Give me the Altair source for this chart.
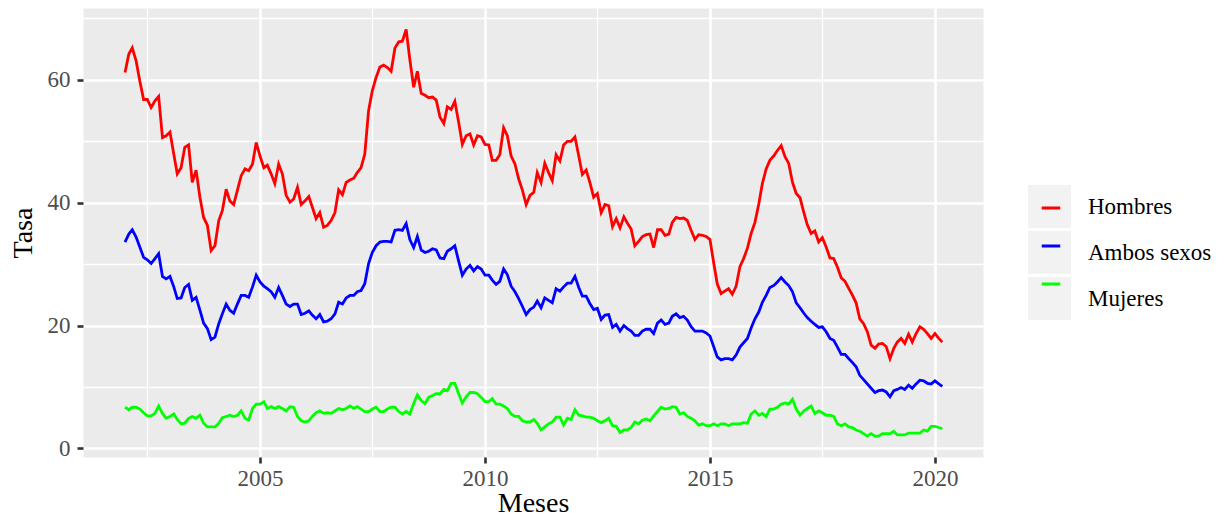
import altair as alt
import pandas as pd

# Tasas mensuales, enero 2002 - marzo 2020
hombres = [
    61.2, 64.2, 65.2, 63.1, 59.8, 56.8, 56.8, 55.5, 56.6, 57.3, 50.6, 50.9,
    51.5, 47.9, 44.7, 45.7, 49.0, 49.4, 43.3, 45.3, 40.9, 37.6, 36.3, 32.2,
    33.0, 37.1, 38.7, 42.2, 40.3, 39.7, 42.0, 44.4, 45.5, 45.2, 46.3, 49.8,
    47.6, 45.7, 46.1, 44.7, 43.1, 46.3, 44.7, 41.2, 40.1, 40.6, 42.5, 39.7,
    40.3, 41.0, 39.3, 37.4, 38.4, 36.0, 36.3, 37.1, 38.4, 42.1, 41.3, 43.3,
    43.7, 44.0, 44.9, 45.7, 47.9, 55.0, 58.2, 60.4, 62.1, 62.4, 62.0, 61.4,
    65.2, 66.2, 66.3, 68.2, 63.3, 58.8, 61.4, 57.8, 57.5, 57.1, 57.2, 56.7,
    53.9, 52.9, 55.6, 55.2, 56.5, 53.1, 49.5, 50.9, 51.2, 49.4, 50.9, 50.7,
    49.5, 49.4, 46.9, 46.9, 47.8, 52.2, 50.9, 47.6, 46.3, 43.9, 42.0, 39.7,
    41.2, 41.7, 44.9, 43.3, 46.4, 44.9, 43.6, 47.8, 46.8, 49.4, 50.0, 50.0,
    50.7, 47.6, 44.6, 45.3, 43.3, 40.9, 41.5, 38.4, 39.7, 39.5, 36.1, 37.4,
    35.9, 37.7, 36.7, 35.7, 33.0, 33.7, 34.5, 34.8, 34.9, 32.7, 35.6, 35.6,
    34.7, 34.9, 36.8, 37.6, 37.4, 37.5, 37.1, 35.5, 34.0, 34.8, 34.7, 34.5,
    34.0, 30.1, 26.8, 25.2, 25.6, 26.0, 25.1, 26.4, 29.6, 30.9, 32.6, 35.0,
    36.8, 39.8, 43.1, 45.5, 46.9, 47.6, 48.5, 49.3, 47.5, 46.4, 43.3, 41.5,
    40.8, 38.4, 36.4, 35.0, 35.4, 33.6, 34.3, 32.8, 31.0, 30.9, 29.5, 27.8,
    27.2, 26.0, 25.0, 23.7, 21.1, 20.3, 19.0, 16.8, 16.3, 17.0, 17.1, 16.6,
    14.6, 16.3, 17.3, 17.9, 17.1, 18.6, 17.3, 18.7, 19.8, 19.4, 18.7, 17.9,
    18.7, 17.9, 17.3,
]
ambos = [
    33.6, 34.9, 35.6, 34.4, 32.8, 31.1, 30.7, 30.1, 30.9, 31.7, 28.0, 27.6,
    28.0, 26.3, 24.4, 24.5, 26.2, 26.7, 24.1, 24.6, 22.5, 20.4, 19.5, 17.7,
    18.1, 20.3, 21.9, 23.5, 22.5, 22.0, 23.5, 24.9, 24.9, 24.6, 26.3, 28.2,
    27.1, 26.4, 26.0, 25.5, 24.6, 26.2, 24.9, 23.5, 23.1, 23.5, 23.5, 21.8,
    22.0, 22.4, 21.7, 21.1, 21.8, 20.6, 20.7, 21.1, 21.9, 23.8, 23.5, 24.5,
    24.9, 24.9, 25.5, 25.7, 26.8, 30.1, 31.9, 33.0, 33.6, 33.7, 33.7, 33.6,
    35.5, 35.6, 35.5, 36.6, 34.0, 32.7, 34.5, 32.3, 31.9, 32.1, 32.5, 32.3,
    31.0, 30.9, 32.1, 32.5, 33.0, 30.5, 28.2, 29.2, 29.8, 28.9, 29.6, 29.2,
    28.2, 28.2, 27.4, 26.7, 27.2, 29.2, 28.3, 26.4, 25.5, 24.4, 23.1, 21.8,
    22.6, 23.0, 24.0, 22.9, 24.5, 24.1, 23.7, 26.0, 25.6, 26.3, 26.9, 26.9,
    28.0, 26.2, 24.8, 24.8, 23.6, 22.6, 22.8, 21.0, 21.7, 21.8, 19.7, 20.2,
    19.1, 20.0, 19.5, 19.1, 18.4, 18.4, 19.1, 19.4, 19.4, 18.7, 20.4, 20.9,
    20.2, 20.4, 21.5, 21.9, 21.3, 21.5, 20.9, 19.8, 19.1, 19.1, 19.1, 18.8,
    18.3, 16.5, 14.9, 14.4, 14.6, 14.6, 14.4, 15.2, 16.5, 17.2, 17.9, 19.6,
    21.1, 22.2, 23.8, 24.9, 26.2, 26.5, 27.1, 27.8, 27.1, 26.5, 25.5, 23.7,
    22.9, 22.0, 21.3, 20.7, 20.2, 19.7, 19.8, 19.0, 17.9, 17.6, 16.5, 15.3,
    15.3, 14.6, 14.0, 13.3, 11.9, 11.2, 10.5, 9.8, 9.1, 9.4, 9.5, 9.2,
    8.4, 9.4, 9.6, 9.9, 9.6, 10.3, 9.8, 10.5, 11.1, 11.0, 10.6, 10.5,
    11.0, 10.5, 10.1,
]
mujeres = [
    6.7, 6.3, 6.7, 6.7, 6.4, 5.8, 5.3, 5.3, 5.7, 6.9, 5.7, 4.9,
    5.2, 5.6, 4.7, 4.0, 4.1, 4.9, 5.2, 4.9, 5.4, 4.1, 3.5, 3.5,
    3.5, 4.1, 5.0, 5.2, 5.4, 5.2, 5.4, 6.1, 4.9, 4.6, 6.5, 7.2,
    7.2, 7.6, 6.5, 6.8, 6.5, 6.8, 6.5, 6.1, 6.8, 6.7, 5.2, 4.5,
    4.3, 4.5, 5.2, 5.8, 6.1, 5.7, 5.8, 5.7, 6.1, 6.5, 6.3, 6.5,
    6.9, 6.5, 6.8, 6.4, 6.0, 6.0, 6.4, 6.7, 6.0, 6.0, 6.4, 6.7,
    6.7, 6.0, 5.6, 6.0, 5.6, 7.3, 8.7, 7.8, 7.3, 8.3, 8.6, 8.9,
    8.9, 9.6, 9.4, 10.6, 10.6, 8.9, 7.4, 8.4, 9.1, 9.1, 8.9, 8.3,
    7.6, 7.6, 8.1, 7.2, 7.2, 6.9, 6.5, 5.6, 5.2, 5.2, 4.5, 4.3,
    4.3, 4.7, 4.1, 3.0, 3.5, 4.0, 4.3, 5.1, 5.1, 3.8, 4.9, 4.7,
    6.3, 5.4, 5.3, 5.1, 5.1, 4.9, 4.5, 4.2, 4.5, 4.9, 3.7, 3.6,
    2.6, 3.0, 3.0, 3.4, 4.3, 4.0, 4.6, 4.8, 4.5, 5.3, 6.0, 6.7,
    6.4, 6.5, 6.8, 6.7, 5.6, 5.8, 5.2, 4.9, 4.5, 3.8, 4.0, 3.7,
    3.7, 4.0, 3.7, 4.0, 4.0, 3.7, 4.0, 4.0, 4.0, 4.2, 4.1, 5.6,
    6.1, 5.4, 5.7, 5.2, 6.4, 6.4, 6.7, 7.2, 7.4, 7.2, 8.0, 6.4,
    5.4, 6.1, 6.5, 6.9, 5.7, 6.1, 5.8, 5.4, 5.4, 5.2, 4.0, 3.7,
    4.0, 3.5, 3.4, 3.0, 2.8, 2.4, 2.0, 2.4, 2.0, 2.0, 2.4, 2.4,
    2.4, 2.8, 2.2, 2.2, 2.2, 2.5, 2.5, 2.5, 2.5, 3.0, 2.8, 3.6,
    3.6, 3.4, 3.2,
]

series = ["Hombres", "Ambos sexos", "Mujeres"]
colores = ["#FF0000", "#0000FF", "#00FF00"]
anios_mayores = [2005, 2010, 2015, 2020]
valores_y = [0, 10, 20, 30, 40, 50, 60, 70]

fechas = pd.date_range("2002-01-01", periods=len(hombres), freq="MS")
filas = []
for nombre, vals in zip(series, [hombres, ambos, mujeres]):
    for f, v in zip(fechas, vals):
        filas.append({"fecha": f, "serie": nombre, "serie_fondo": nombre, "tasa": v})
df = pd.DataFrame(filas)

FONT = "Liberation Serif"

x_ticks = []
for a in anios_mayores:
    x_ticks.append(alt.DateTime(year=a - 3, month=7, date=1))
    x_ticks.append(alt.DateTime(year=a, month=1, date=1))
x_ticks.append(alt.DateTime(year=2022, month=7, date=1))

es_mayor_x = "month(datum.value) === 0"
es_mayor_y = "datum.value % 20 === 0"

x_enc = alt.X(
    "fecha:T",
    title="Meses",
    scale=alt.Scale(domain=[alt.DateTime(year=2001, month=1, date=25),
                            alt.DateTime(year=2021, month=1, date=25)]),
    axis=alt.Axis(
        values=x_ticks, format="%Y",
        labelExpr=f"{es_mayor_x} ? datum.label : ''",
        gridWidth={"condition": {"test": es_mayor_x, "value": 2.6}, "value": 1.3},
        tickOpacity={"condition": {"test": es_mayor_x, "value": 1}, "value": 0},
        labelPadding=4, titleBaseline="alphabetic", titleY=54,
        labelOverlap=False,
    ),
)
y_enc = alt.Y(
    "tasa:Q",
    title="Tasa",
    scale=alt.Scale(domain=[-1.4, 71.7], nice=False, zero=False),
    axis=alt.Axis(
        values=valores_y,
        labelExpr=f"{es_mayor_y} ? datum.label : ''",
        gridWidth={"condition": {"test": es_mayor_y, "value": 2.6}, "value": 1.3},
        tickOpacity={"condition": {"test": es_mayor_y, "value": 1}, "value": 0},
        labelPadding=7, titlePadding=10, labelOverlap=False,
    ),
)

# Fondo gris de las claves de la leyenda (dominio derivado de los datos,
# para que Vega-Lite no la fusione con la leyenda de color)
fondo = alt.Chart(df).mark_square(opacity=0, size=1).encode(
    x=x_enc, y=y_enc,
    fill=alt.Fill(
        "serie_fondo:N", sort=series,
        scale=alt.Scale(range=["#F2F2F2"] * 3),
        legend=alt.Legend(
            title=None, orient="none", legendX=945, legendY=177,
            symbolType="square", symbolSize=1849, symbolStrokeWidth=0,
            symbolOpacity=1, symbolFillColor="#F2F2F2",
            rowPadding=3, labelOffset=17, padding=0, zindex=1,
            labelFont=FONT, labelFontSize=23, labelColor="black",
        ),
    ),
)

lineas = alt.Chart(df).mark_line(strokeWidth=2.8).encode(
    x=x_enc, y=y_enc,
    color=alt.Color(
        "serie:N", sort=series,
        scale=alt.Scale(domain=series, range=colores),
        legend=alt.Legend(
            title=None, orient="none", legendX=945, legendY=177,
            symbolType="M-0.43,0H0.43", symbolSize=1849, symbolStrokeWidth=3,
            rowPadding=3, labelOffset=17, padding=0, zindex=2,
            labelExpr="''", labelOpacity=0, labelFont=FONT, labelFontSize=23,
        ),
    ),
)

chart = alt.layer(fondo, lineas).properties(
    width=900, height=449,
    padding={"left": 75, "top": 0, "right": 231, "bottom": 59},
    autosize=alt.AutoSizeParams(type="none"),
    background="white",
).configure_view(
    fill="#EBEBEB", stroke="transparent",
).configure_axis(
    domain=False, gridColor="white", tickColor="#333333", tickWidth=2.6,
    tickSize=6, labelFont=FONT, labelFontSize=23, labelColor="#4D4D4D",
    titleFont=FONT, titleFontSize=28, titleColor="black", titleFontWeight="normal",
)

chart.save("out.html", embed_options={"renderer": "svg", "actions": False})
